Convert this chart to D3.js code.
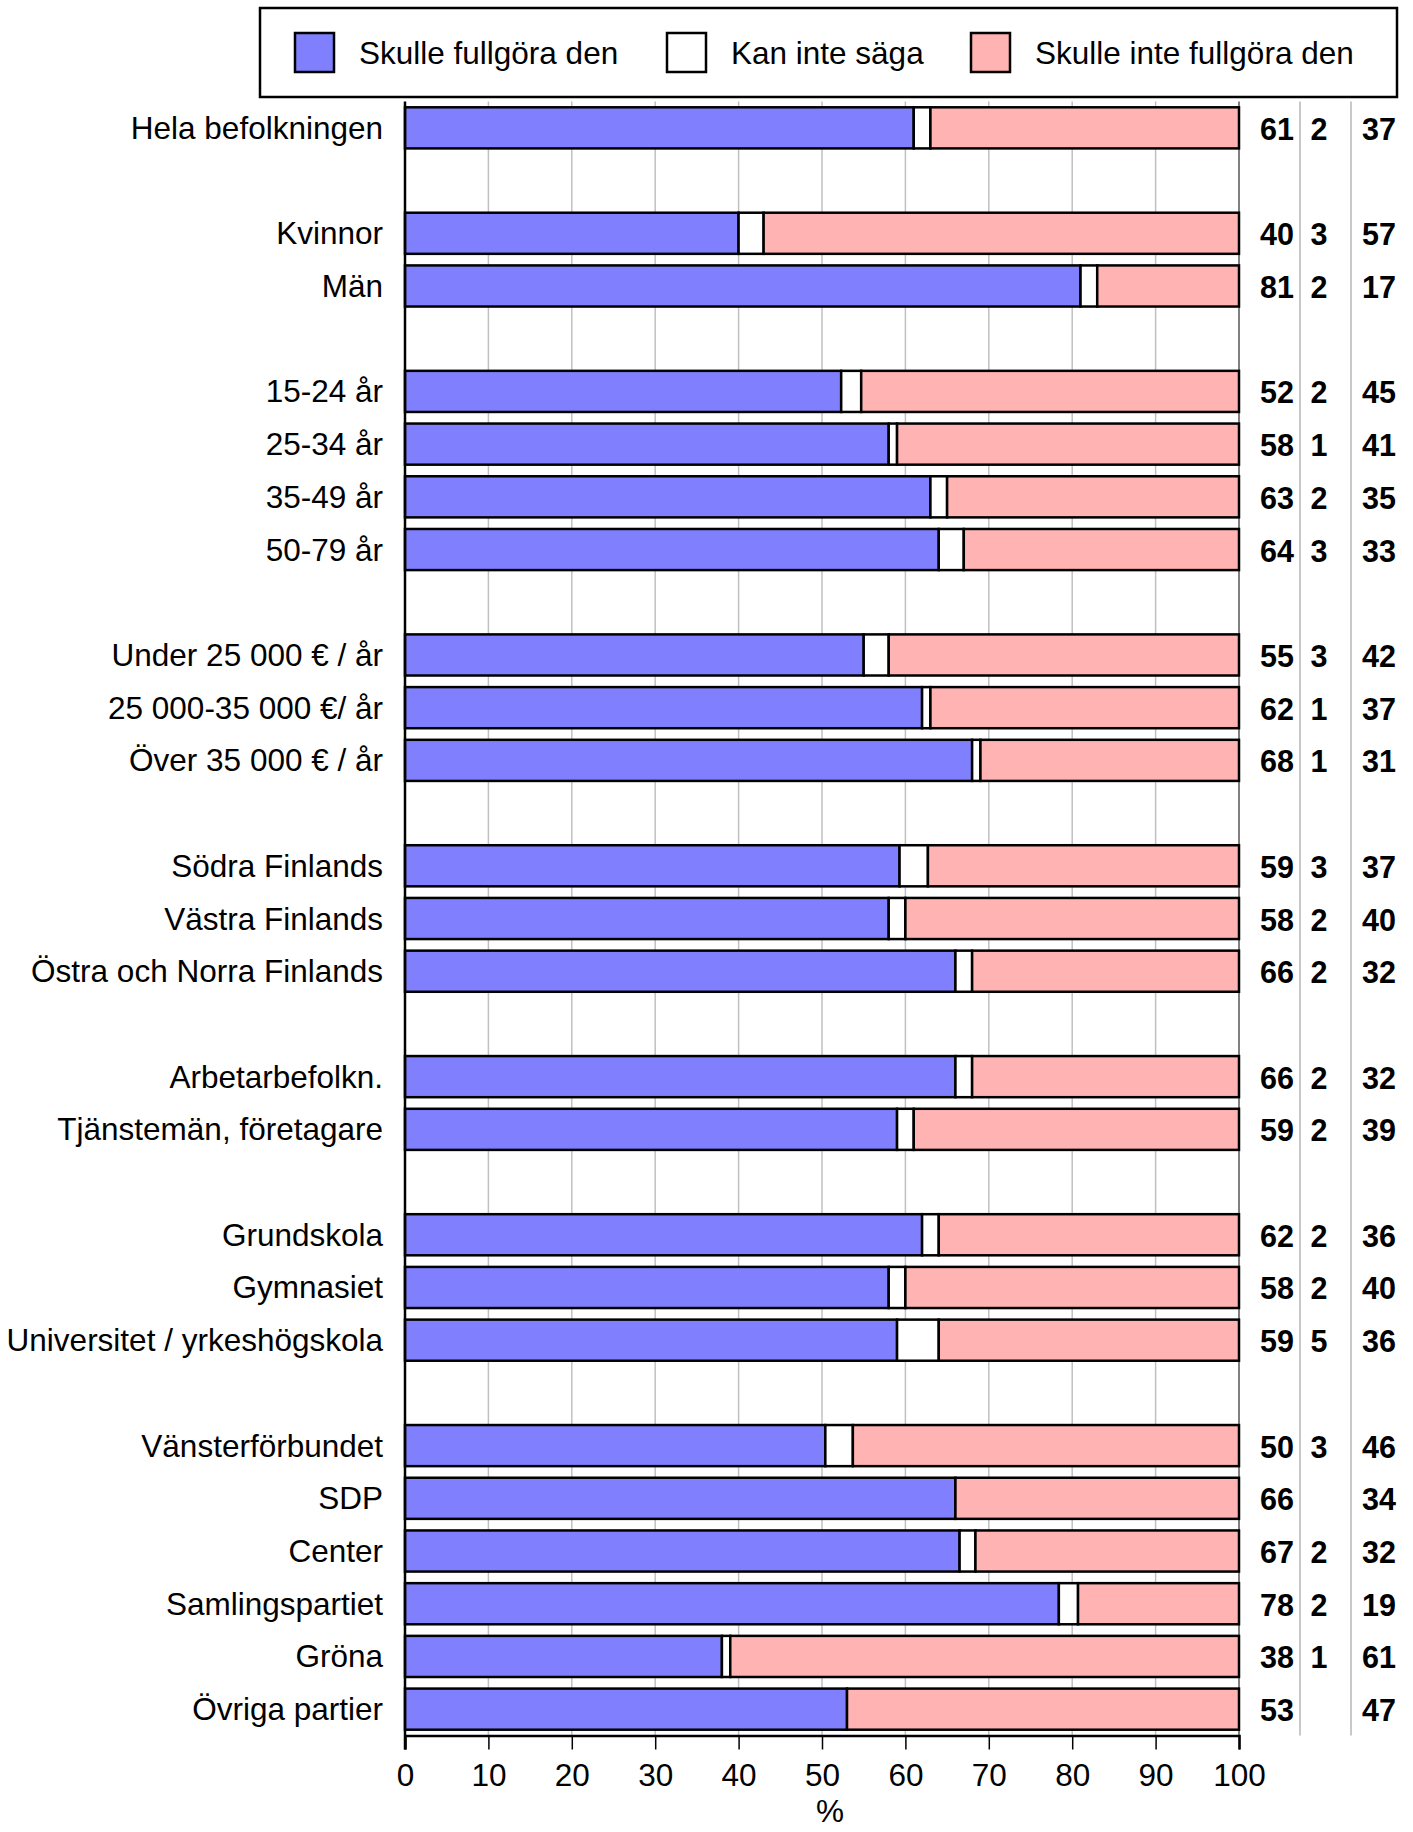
<!DOCTYPE html>
<html>
<head>
<meta charset="utf-8">
<script src="https://cdn.jsdelivr.net/npm/d3@7"></script>
<style>
  body { margin: 0; background: #fff; }
  svg { display: block; font-family: "Liberation Sans", Arial, sans-serif; }
</style>
</head>
<body>
<svg id="chart" width="1413" height="1832"></svg>
<script>
// kategorier och grupper (tom rad mellan grupperna)
const categories = [
  "Hela befolkningen",
  "Kvinnor", "Män",
  "15-24 år", "25-34 år", "35-49 år", "50-79 år",
  "Under 25 000 € / år", "25 000-35 000 €/ år", "Över 35 000 € / år",
  "Södra Finlands", "Västra Finlands", "Östra och Norra Finlands",
  "Arbetarbefolkn.", "Tjänstemän, företagare",
  "Grundskola", "Gymnasiet", "Universitet / yrkeshögskola",
  "Vänsterförbundet", "SDP", "Center", "Samlingspartiet", "Gröna", "Övriga partier"
];
const groups = [0, 1, 1, 2, 2, 2, 2, 3, 3, 3, 4, 4, 4, 5, 5, 6, 6, 6, 7, 7, 7, 7, 7, 7];

// serier (%)
const skulle = [61, 40, 81, 52.3, 58, 63, 64, 55, 62, 68, 59.3, 58, 66, 66, 59, 62, 58, 59, 50.4, 66, 66.5, 78.4, 38, 53];
const kanInte = [2, 3, 2, 2.4, 1, 2, 3, 3, 1, 1, 3.4, 2, 2, 2, 2, 2, 2, 5, 3.3, 0, 1.9, 2.3, 1, 0];
const skulleInte = [37, 57, 17, 45.3, 41, 35, 33, 42, 37, 31, 37.3, 40, 32, 32, 39, 36, 40, 36, 46.3, 34, 31.6, 19.3, 61, 47];

const seriesNames = ["Skulle fullgöra den", "Kan inte säga", "Skulle inte fullgöra den"];
const colors = ["#8080ff", "#ffffff", "#ffb3b3"];
const xTicks = [0, 10, 20, 30, 40, 50, 60, 70, 80, 90, 100];

const svg = d3.select("#chart");

// rader med luckor mellan grupperna
const slots = [];
categories.forEach((c, i) => {
  if (i > 0 && groups[i] !== groups[i - 1]) slots.push("gap" + groups[i]);
  slots.push(c);
});

const plotTop = 101.5, plotBottom = 1735.5;
const x = d3.scaleLinear().domain([0, 100]).range([405, 1239]);
const y = d3.scaleBand().domain(slots).range([plotTop, plotBottom]).paddingInner(0.22).paddingOuter(0.11);

// rutnät
svg.append("g").selectAll("line")
  .data(xTicks.filter(t => t > 0 && t < 100))
  .join("line")
  .attr("x1", d => x(d)).attr("x2", d => x(d))
  .attr("y1", plotTop).attr("y2", plotBottom)
  .attr("stroke", "#c0c0c0").attr("stroke-width", 1.5);

// högra kanten
svg.append("line")
  .attr("x1", x(100)).attr("x2", x(100)).attr("y1", plotTop).attr("y2", plotBottom)
  .attr("stroke", "#808080").attr("stroke-width", 2);

// kolumnavdelare för siffrorna
[1300, 1351].forEach(cx => {
  svg.append("line")
    .attr("x1", cx).attr("x2", cx).attr("y1", plotTop).attr("y2", plotBottom)
    .attr("stroke", "#c8c8c8").attr("stroke-width", 2);
});

const table = categories.map((c, i) => ({ cat: c, a: skulle[i], b: kanInte[i], c2: skulleInte[i] }));
const stack = d3.stack().keys(["a", "b", "c2"])(table);

svg.append("g").selectAll("g")
  .data(stack)
  .join("g")
  .attr("fill", (d, i) => colors[i])
  .selectAll("rect")
  .data(d => d.filter(p => p[1] - p[0] > 0))
  .join("rect")
  .attr("x", d => x(d[0]))
  .attr("width", d => x(d[1]) - x(d[0]))
  .attr("y", d => y(d.data.cat))
  .attr("height", y.bandwidth())
  .attr("stroke", "#000")
  .attr("stroke-width", 2.5);

// x-axel
const xAxis = svg.append("g")
  .attr("transform", `translate(0,${plotBottom})`)
  .call(d3.axisBottom(x).tickValues(xTicks).tickSize(14).tickPadding(14));
xAxis.select(".domain").attr("stroke", "#000").attr("stroke-width", 2.5);
xAxis.selectAll(".tick line").attr("stroke", "#000").attr("stroke-width", 1.5);
xAxis.selectAll("text").attr("font-size", 31.5).attr("fill", "#000")
  .attr("font-family", "Liberation Sans, Arial, sans-serif");

// y-axel linje
svg.append("line")
  .attr("x1", x(0)).attr("x2", x(0)).attr("y1", plotTop).attr("y2", plotBottom + 14)
  .attr("stroke", "#000").attr("stroke-width", 2.5);

svg.append("text")
  .attr("x", 830).attr("y", 1811)
  .attr("text-anchor", "middle").attr("dominant-baseline", "central")
  .attr("font-size", 31.5).text("%");

// kategorietiketter
svg.append("g").selectAll("text")
  .data(categories)
  .join("text")
  .attr("x", 383)
  .attr("y", d => y(d) + y.bandwidth() / 2)
  .attr("text-anchor", "end")
  .attr("dominant-baseline", "central")
  .attr("font-size", 31.5)
  .text(d => d);

// värden till höger
const valueCols = [
  { vals: skulle, x: 1277 },
  { vals: kanInte, x: 1319 },
  { vals: skulleInte, x: 1379 }
];
valueCols.forEach(col => {
  svg.append("g").selectAll("text")
    .data(categories)
    .join("text")
    .attr("x", col.x)
    .attr("y", d => y(d) + y.bandwidth() / 2 + 1)
    .attr("text-anchor", "middle")
    .attr("dominant-baseline", "central")
    .attr("font-size", 30.5)
    .attr("font-weight", "bold")
    .text((d, i) => col.vals[i] > 0 ? Math.round(col.vals[i]) : "");
});

// legend
const legend = svg.append("g");
legend.append("rect")
  .attr("x", 260).attr("y", 8).attr("width", 1137).attr("height", 89)
  .attr("fill", "#fff").attr("stroke", "#000").attr("stroke-width", 2.5);
const legX = [295, 667, 971];
seriesNames.forEach((n, i) => {
  legend.append("rect")
    .attr("x", legX[i]).attr("y", 33).attr("width", 39).attr("height", 39)
    .attr("fill", colors[i]).attr("stroke", "#000").attr("stroke-width", 2.5);
  legend.append("text")
    .attr("x", legX[i] + 64).attr("y", 53)
    .attr("dominant-baseline", "central")
    .attr("font-size", 31.5)
    .text(n);
});
</script>
</body>
</html>
